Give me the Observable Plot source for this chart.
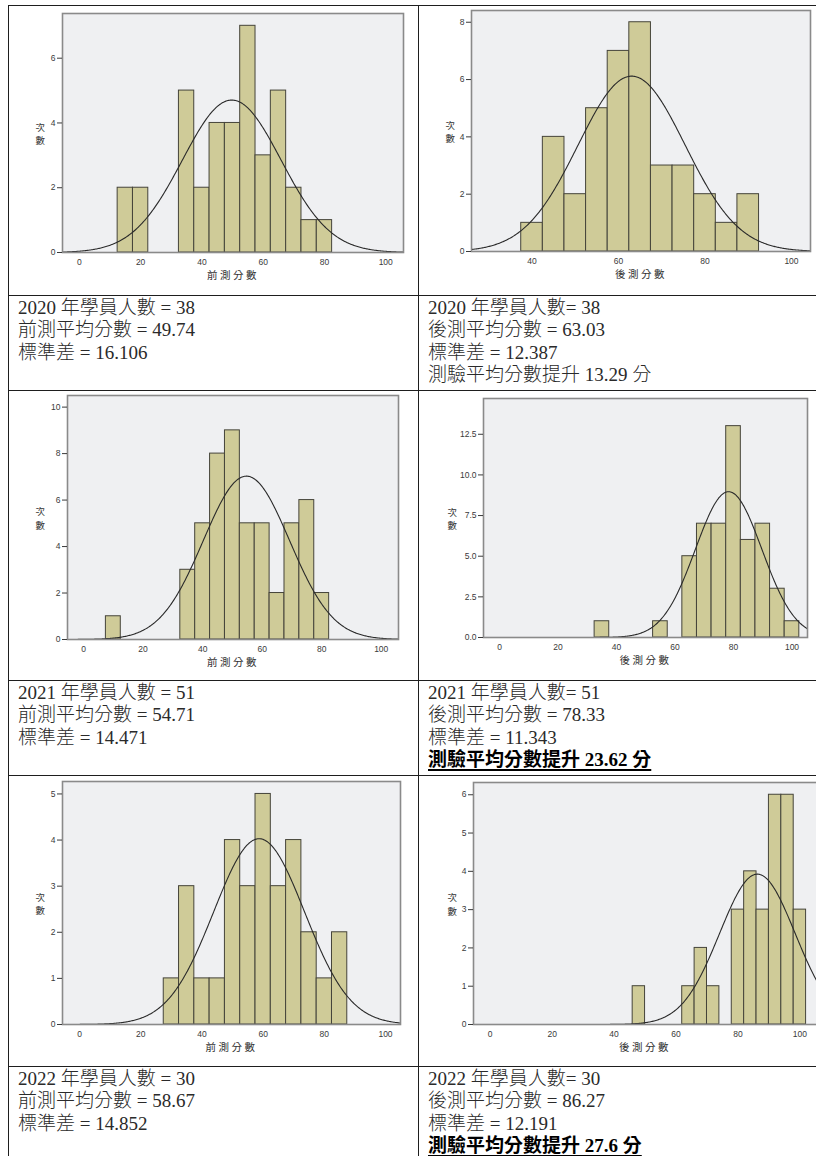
<!DOCTYPE html>
<html><head><meta charset="utf-8">
<script src="https://cdn.jsdelivr.net/npm/d3@7"></script>
<script src="https://cdn.jsdelivr.net/npm/@observablehq/plot@0.6"></script>
<style>
html,body{margin:0;padding:0;background:#fff;}
#page{position:relative;width:816px;height:1156px;overflow:hidden;background:#fff;}
.hl{position:absolute;height:1px;background:#1e1e1e;}
.vl{position:absolute;width:1px;background:#1e1e1e;}
.plot{position:absolute;}
.tl{position:absolute;white-space:nowrap;font-family:"Liberation Serif","Noto Sans CJK TC",serif;font-size:19px;font-weight:300;line-height:21px;height:21px;color:#2a2a2a;}
.tl.hi{font-weight:bold;text-decoration:underline;text-decoration-thickness:1.5px;text-underline-offset:3px;color:#000;}
</style></head><body><div id="page"></div>
<script>
// ---------- data ----------
const years = ["2020", "2021", "2022"];
const students = [38, 51, 30];
const preMean = ["49.74", "54.71", "58.67"];
const preSD = ["16.106", "14.471", "14.852"];
const postMean = ["63.03", "78.33", "86.27"];
const postSD = ["12.387", "11.343", "12.191"];
const gain = ["13.29", "23.62", "27.6"];
const gainHighlighted = [false, true, true];

const preLabel = "前測分數";
const postLabel = "後測分數";
const yTitle = "次\n數";

const xTicksFull = [0, 20, 40, 60, 80, 100];
const xTicksPost2020 = [40, 60, 80, 100];

const pre2020Centers = [15, 20, 35, 40, 45, 50, 55, 60, 65, 70, 75, 80];
const pre2020Counts  = [2, 2, 5, 2, 4, 4, 7, 3, 5, 2, 1, 1];
const post2020Centers = [40, 45, 50, 55, 60, 65, 70, 75, 80, 85, 90];
const post2020Counts  = [1, 4, 2, 5, 7, 8, 3, 3, 2, 1, 2];
const pre2021Centers = [10, 35, 40, 45, 50, 55, 60, 65, 70, 75, 80];
const pre2021Counts  = [1, 3, 5, 8, 9, 5, 5, 2, 5, 6, 2];
const post2021Centers = [35, 55, 65, 70, 75, 80, 85, 90, 95, 100];
const post2021Counts  = [1, 1, 5, 7, 7, 13, 6, 7, 3, 1];
const pre2022Centers = [30, 35, 40, 45, 50, 55, 60, 65, 70, 75, 80, 85];
const pre2022Counts  = [1, 3, 1, 1, 4, 3, 5, 3, 4, 2, 1, 2];
const post2022Centers = [48, 64, 68, 72, 80, 84, 88, 92, 96, 100];
const post2022Counts  = [1, 1, 2, 1, 3, 4, 3, 6, 6, 3];

const yTicksPre2020 = [0, 2, 4, 6];
const yTicksPost2020 = [0, 2, 4, 6, 8];
const yTicksPre2021 = [0, 2, 4, 6, 8, 10];
const yTicksPost2021 = [0, 2.5, 5, 7.5, 10, 12.5];
const yTicksPre2022 = [0, 1, 2, 3, 4, 5];
const yTicksPost2022 = [0, 1, 2, 3, 4, 5, 6];

// ---------- layout ----------
const page = document.getElementById("page");
function hline(x, y, w) { const d = document.createElement("div"); d.className = "hl"; Object.assign(d.style, {left: x + "px", top: y + "px", width: w + "px"}); page.appendChild(d); }
function vline(x, y, h) { const d = document.createElement("div"); d.className = "vl"; Object.assign(d.style, {left: x + "px", top: y + "px", height: h + "px"}); page.appendChild(d); }

const colX = [8, 418];
const textTops = [295, 680, 1066];   // text cell tops
[5, 295, 390, 680, 775, 1066].forEach(y => hline(8, y, 820));
colX.forEach(x => vline(x, 5, 1160));

const panels = [
  {centers: pre2020Centers, counts: pre2020Counts, bw: 5, mean: +preMean[0], sd: +preSD[0], n: students[0],
   frame: [62, 13, 403, 252], xd: [-5.5, 105.8], ymax: 7.38, xt: xTicksFull, yt: yTicksPre2020, label: preLabel, ydx: -27},
  {centers: post2020Centers, counts: post2020Counts, bw: 5, mean: +postMean[0], sd: +postSD[0], n: students[0],
   frame: [471, 10, 810, 251], xd: [26, 104.4], ymax: 8.41, xt: xTicksPost2020, yt: yTicksPost2020, label: postLabel, ydx: -26},
  {centers: pre2021Centers, counts: pre2021Counts, bw: 5, mean: +preMean[1], sd: +preSD[1], n: students[1],
   frame: [67, 395, 398, 639], xd: [-5.4, 105.8], ymax: 10.5, xt: xTicksFull, yt: yTicksPre2021, label: preLabel, ydx: -32},
  {centers: post2021Centers, counts: post2021Counts, bw: 5, mean: +postMean[1], sd: +postSD[1], n: students[1],
   frame: [483, 398, 807, 637], xd: [-5.5, 105.3], ymax: 14.7, xt: xTicksFull, yt: yTicksPost2021, fmt: ".1f", label: postLabel, ydx: -36},
  {centers: pre2022Centers, counts: pre2022Counts, bw: 5, mean: +preMean[2], sd: +preSD[2], n: students[2],
   frame: [62, 781, 400, 1024], xd: [-5.6, 104.9], ymax: 5.27, xt: xTicksFull, yt: yTicksPre2022, label: preLabel, ydx: -27},
  {centers: post2022Centers, counts: post2022Counts, bw: 4, mean: +postMean[2], sd: +postSD[2], n: students[2],
   frame: [473, 782, 822, 1024], xd: [-5.4, 107.3], ymax: 6.32, xt: xTicksFull, yt: yTicksPost2022, label: postLabel, ydx: -26, tdx: -3}
];

const mL = 46, mR = 6, mT = 6, mB = 42;
panels.forEach(p => {
  const [l, t, r, b] = p.frame;
  const w = r - l, h = b - t;
  const bins = p.centers.map((c, i) => ({x1: c - p.bw / 2, x2: c + p.bw / 2, y: p.counts[i]}));
  const step = (p.xd[1] - p.xd[0]) / 400;
  const curve = d3.range(p.xd[0], p.xd[1] + step / 2, step).map(x => ({
    x, y: p.n * p.bw * Math.exp(-0.5 * ((x - p.mean) / p.sd) ** 2) / (p.sd * Math.sqrt(2 * Math.PI))
  }));
  const svg = Plot.plot({
    width: w + mL + mR, height: h + mT + mB,
    marginLeft: mL, marginRight: mR, marginTop: mT, marginBottom: mB,
    style: {fontSize: "8.5px", fontFamily: "'Liberation Sans', Arial, sans-serif", color: "#3a3a3a", background: "transparent", overflow: "visible"},
    x: {domain: p.xd},
    y: {domain: [0, p.ymax]},
    marks: [
      Plot.frame({fill: "#eff0f2", stroke: null}),
      Plot.rectY(bins, {x1: "x1", x2: "x2", y: "y", fill: "#cfcb98", stroke: "#45443a", strokeWidth: 1}),
      Plot.line(curve, {x: "x", y: "y", stroke: "#2a2a2a", strokeWidth: 1.1, clip: true}),
      Plot.frame({stroke: "#8a8a8a", strokeWidth: 1.6}),
      Plot.axisY({ticks: p.yt, tickSize: 5, tickPadding: 2, tickFormat: p.fmt ? d3.format(p.fmt) : d3.format("d"), label: null}),
      Plot.axisX({ticks: p.xt, tickSize: 0, tickPadding: 6, label: null}),
      Plot.text([p.label], {text: d => d, frameAnchor: "bottom", dy: 26, dx: p.tdx || 0, fontSize: 10.5, fill: "#333",
        fontFamily: "'Noto Sans CJK TC', sans-serif"}),
      Plot.text([yTitle], {text: d => d, frameAnchor: "left", dx: p.ydx, fontSize: 9.5, lineHeight: 1.45, fill: "#333",
        fontFamily: "'Noto Sans CJK TC', sans-serif"})
    ]
  });
  svg.querySelectorAll("text").forEach(el => { if (el.textContent === p.label) el.style.letterSpacing = "2.5px"; });
  svg.classList.add("plot");
  svg.style.position = "absolute";
  svg.style.left = (l - mL) + "px";
  svg.style.top = (t - mT) + "px";
  page.appendChild(svg);
});

// ---------- text cells ----------
function textLine(x, y, str, hi) {
  const d = document.createElement("div");
  d.className = "tl" + (hi ? " hi" : "");
  d.style.left = x + "px"; d.style.top = y + "px";
  d.textContent = str;
  page.appendChild(d);
}
const pitch = 22.3;
years.forEach((yr, i) => {
  const top = textTops[i] + 2;
  const left = [
    `${yr} 年學員人數 = ${students[i]}`,
    `前測平均分數 = ${preMean[i]}`,
    `標準差 = ${preSD[i]}`
  ];
  const right = [
    `${yr} 年學員人數= ${students[i]}`,
    `後測平均分數 = ${postMean[i]}`,
    `標準差 = ${postSD[i]}`,
    `測驗平均分數提升 ${gain[i]} 分`
  ];
  left.forEach((s, k) => textLine(18, top + k * pitch, s, false));
  right.forEach((s, k) => textLine(428, top + k * pitch, s, k === 3 && gainHighlighted[i]));
});
</script></body></html>
